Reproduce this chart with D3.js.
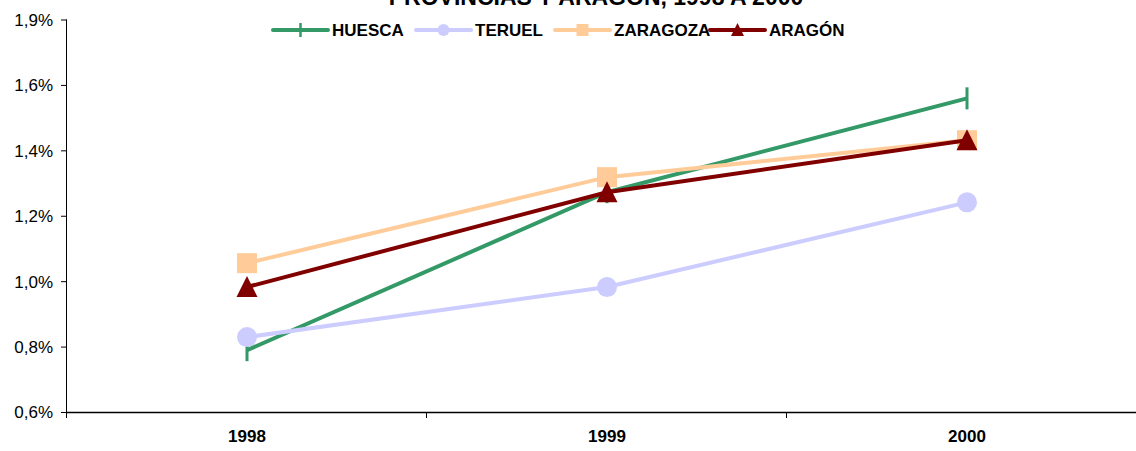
<!DOCTYPE html>
<html><head><meta charset="utf-8">
<script src="https://cdn.jsdelivr.net/npm/d3@7"></script>
<style>body{margin:0;background:#fff}svg{display:block}</style>
</head><body>
<svg id="c" width="1136" height="451"></svg>
<script>
const years = ["1998","1999","2000"];
const huesca = [0.789, 1.272, 1.559];
const teruel = [0.829, 0.982, 1.241];
const zaragoza = [1.055, 1.318, 1.431];
const aragon = [0.982, 1.272, 1.431];
const seriesNames = ["HUESCA","TERUEL","ZARAGOZA","ARAGÓN"];
const tickValues = [0.6, 0.8, 1.0, 1.2, 1.4, 1.6, 1.8];
const tickLabels = ["0,6%","0,8%","1,0%","1,2%","1,4%","1,6%","1,9%"];
const title = "PROVINCIAS Y ARAGÓN, 1998 A 2000";

const series = [
  {name: seriesNames[0], values: huesca, color: "#339966", marker: "plus"},
  {name: seriesNames[1], values: teruel, color: "#ccccff", marker: "circle"},
  {name: seriesNames[2], values: zaragoza, color: "#ffcc99", marker: "square"},
  {name: seriesNames[3], values: aragon, color: "#800000", marker: "triangle"}
];

const svg = d3.select("#c");
const font = "Arial, 'Liberation Sans', sans-serif";
const x0 = 67, x1 = 67 + 3*360, yTop = 19.5, yBot = 412;
const x = d3.scaleBand().domain(years).range([x0, x1]);
const y = d3.scaleLinear().domain([0.6, 1.8]).range([yBot, yTop]);

// title (partially cut off at top, as in the reference)
svg.append("text").attr("x", 596).attr("y", 5).attr("text-anchor","middle")
  .attr("font-family", font).attr("font-weight","bold").attr("font-size", 23)
  .attr("fill","#000").text(title);

// y axis
const yAxis = d3.axisLeft(y).tickValues(tickValues).tickSize(6)
  .tickFormat((d,i) => tickLabels[i]);
const gy = svg.append("g").attr("transform", `translate(${x0},0)`).call(yAxis);
gy.select(".domain").attr("stroke","#000").attr("d", `M-0.5,${yTop}V${yBot}`);
gy.selectAll(".tick line").attr("stroke","#000");
gy.selectAll(".tick text").attr("font-family", font).attr("font-size", 17)
  .attr("fill","#000").attr("x", -14).attr("dy", "0.35em");

// x axis
const gx = svg.append("g").attr("transform", `translate(0,${yBot})`);
gx.append("line").attr("x1", x0).attr("x2", 1136).attr("y1", 0.5).attr("y2", 0.5)
  .attr("stroke","#000").attr("stroke-width",1.5);
const bounds = [x0].concat(years.map(d => x(d) + x.bandwidth()));
gx.selectAll("line.tk").data(bounds).join("line").attr("class","tk")
  .attr("x1", d => d - 0.5).attr("x2", d => d - 0.5).attr("y1", 0).attr("y2", 6)
  .attr("stroke","#000");
gx.selectAll("text").data(years).join("text")
  .attr("x", d => x(d) + x.bandwidth()/2).attr("y", 30)
  .attr("text-anchor","middle").attr("font-family", font).attr("font-weight","bold")
  .attr("font-size", 17).attr("fill","#000").text(d => d);

const cx = (d,i) => x(years[i]) + x.bandwidth()/2;

function drawMarker(g, type, color, px, py) {
  if (type === "plus") {
    g.append("line").attr("x1", px).attr("x2", px).attr("y1", py-11).attr("y2", py+11)
      .attr("stroke", color).attr("stroke-width", 3);
  } else if (type === "circle") {
    g.append("circle").attr("cx", px).attr("cy", py).attr("r", 10).attr("fill", color);
  } else if (type === "square") {
    g.append("rect").attr("x", px-10).attr("y", py-10).attr("width", 20).attr("height", 20)
      .attr("fill", color);
  } else if (type === "triangle") {
    g.append("path").attr("d", `M${px},${py-11}L${px+10.5},${py+10}L${px-10.5},${py+10}Z`)
      .attr("fill", color);
  }
}

const line = d3.line().x(cx).y(d => y(d));
series.forEach(s => {
  const g = svg.append("g");
  g.append("path").attr("d", line(s.values)).attr("fill","none")
    .attr("stroke", s.color).attr("stroke-width", 4).attr("stroke-linejoin","round");
  s.values.forEach((v,i) => drawMarker(g, s.marker, s.color, cx(v,i), y(v)));
});

// legend
const legendX = [273, 416, 555, 710];
const lg = svg.append("g");
series.forEach((s,i) => {
  const lx = legendX[i], ly = 30;
  lg.append("line").attr("x1", lx).attr("x2", lx+55).attr("y1", ly).attr("y2", ly)
    .attr("stroke", s.color).attr("stroke-width", 4).attr("stroke-linecap","round");
  const g = lg.append("g");
  if (s.marker === "plus") {
    g.append("line").attr("x1", lx+27.5).attr("x2", lx+27.5).attr("y1", ly-7).attr("y2", ly+7)
      .attr("stroke", s.color).attr("stroke-width", 2.5);
  } else if (s.marker === "circle") {
    g.append("circle").attr("cx", lx+27.5).attr("cy", ly).attr("r", 6).attr("fill", s.color);
  } else if (s.marker === "square") {
    g.append("rect").attr("x", lx+21.5).attr("y", ly-6).attr("width", 12).attr("height", 12).attr("fill", s.color);
  } else {
    g.append("path").attr("d", `M${lx+27.5},${ly-7}L${lx+34},${ly+6}L${lx+21},${ly+6}Z`).attr("fill", s.color);
  }
  lg.append("text").attr("x", lx+59).attr("y", ly+6).attr("font-family", font)
    .attr("font-weight","bold").attr("font-size", 17).attr("fill","#000").text(s.name);
});
</script>
</body></html>
